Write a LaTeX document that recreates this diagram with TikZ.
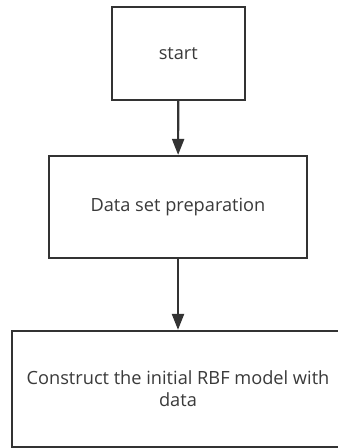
\documentclass[tikz,border=0pt]{standalone}
\usepackage{fontspec}
\setmainfont{Open Sans}
\usetikzlibrary{arrows.meta}
\definecolor{ln}{HTML}{333333}
\definecolor{tx}{HTML}{3A3A3A}
\begin{document}
\begin{tikzpicture}[x=1pt,y=-1pt,
  box/.style={draw=ln,line width=2.2pt,fill=white,inner sep=0pt,align=center,text=tx,font=\fontsize{18.2}{22}\selectfont},
  conn/.style={draw=ln,line width=2.2pt,-{Triangle[length=16pt,width=12pt]}}]
\useasboundingbox[fill=white] (0,0) rectangle (338,448);
\begin{scope}
\clip (0,0) rectangle (338,448);
\node[box,minimum width=132.7pt,minimum height=92.7pt] (start) at (178.3,53.6) {start};
\node[box,minimum width=258pt,minimum height=102pt] (prep) at (178,207) {Data set preparation};
\node[box,minimum width=332pt,minimum height=116pt] (rbf) at (178,389) {Construct the initial RBF model with\\data};
\draw[conn] (start) -- (prep);
\draw[conn] (prep) -- (rbf);
\end{scope}
\end{tikzpicture}
\end{document}
